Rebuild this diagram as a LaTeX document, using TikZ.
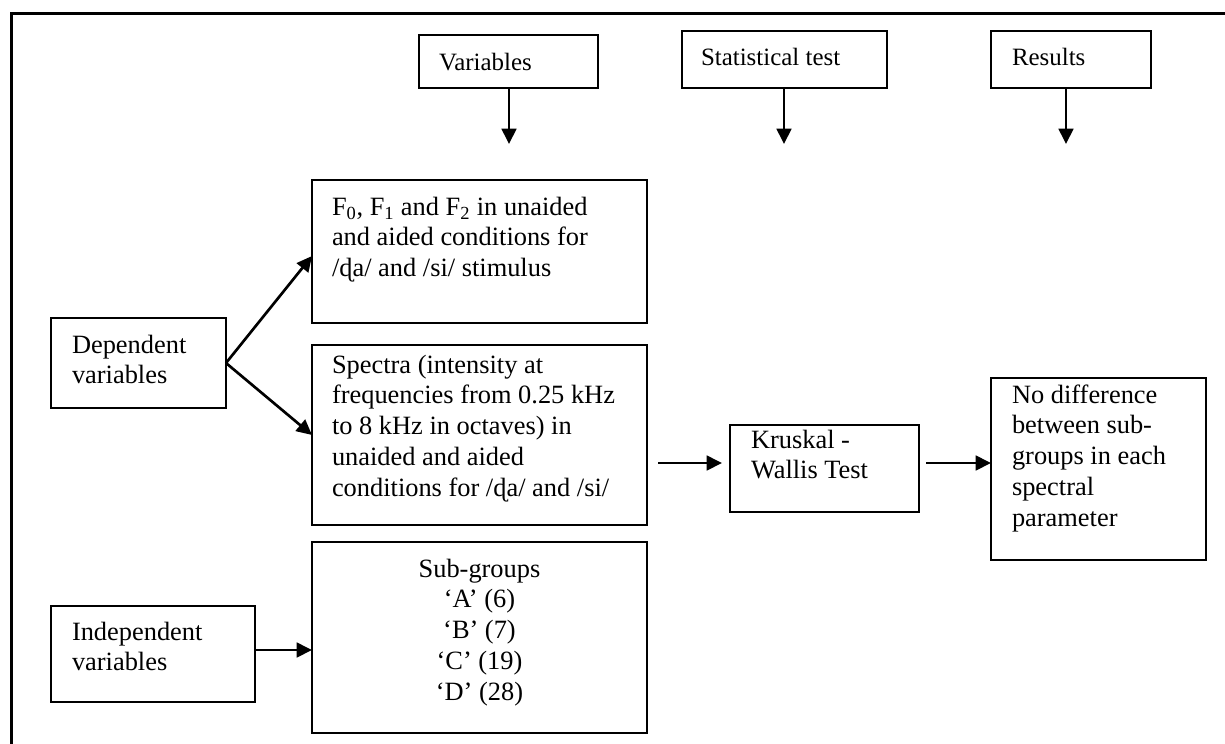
\documentclass[tikz,border=0pt]{standalone}
\usepackage{fontspec}
\setmainfont{Liberation Serif}
\usetikzlibrary{arrows.meta}
\newcommand{\stack}[2][l]{\begin{tabular}[t]{@{}#1@{}}#2\end{tabular}}
\begin{document}
\begin{tikzpicture}[x=0.75pt,y=-0.75pt,
  box/.style={draw, line width=1.3pt, inner sep=0pt, outer sep=0pt, anchor=north west},
  head/.style={inner sep=0pt, outer sep=0pt, anchor=base west,
    font=\fontsize{18.7}{23}\selectfont},
  txt/.style={inner sep=0pt, outer sep=0pt, anchor=base west,
    font=\fontsize{19.8}{23.2}\selectfont},
  arr/.style={line width=2pt, -{Triangle[length=11.5pt,width=11pt]}},
  frameline/.style={line width=2.2pt}]
\useasboundingbox (0,0) rectangle (1225,743);
% open frame along the top and left
\draw[frameline] (11.5,760) |- (1240,13.5);

% column headings
\node[box, minimum width={179*0.75pt}, minimum height={53*0.75pt}] (var) at (419,35) {};
\node[head] (varT) at (439,70) {Variables};
\node[box, minimum width={205*0.75pt}, minimum height={57*0.75pt}] (stat) at (682,31) {};
\node[head] (statT) at (701,65) {Statistical test};
\node[box, minimum width={160*0.75pt}, minimum height={57*0.75pt}] (res) at (991,31) {};
\node[head] (resT) at (1012,65) {Results};

\coordinate (varTip) at (509,144);
\coordinate (statTip) at (784,144);
\coordinate (resTip) at (1066,144);
\draw[arr] (var.south -| varTip) -- (varTip);
\draw[arr] (stat.south -| statTip) -- (statTip);
\draw[arr] (res.south -| resTip) -- (resTip);

% variables
\node[box, minimum width={335*0.75pt}, minimum height={143*0.75pt}] (f0) at (312,180) {};
\node[txt] (f0T) at (332,215) {\stack{F\textsubscript{0}, F\textsubscript{1} and F\textsubscript{2} in unaided\\
  and aided conditions for\\ /ɖa/ and /si/ stimulus}};
\node[box, minimum width={335*0.75pt}, minimum height={180*0.75pt}] (spec) at (312,345) {};
\node[txt] (specT) at (332,373) {\stack{Spectra (intensity at\\ frequencies from 0.25 kHz\\
  to 8 kHz in octaves) in\\ unaided and aided\\ conditions for /ɖa/ and /si/}};
\node[box, minimum width={175*0.75pt}, minimum height={90*0.75pt}] (dep) at (51,318) {};
\node[txt] (depT) at (72,353) {\stack{Dependent\\ variables}};
\node[box, minimum width={335*0.75pt}, minimum height={191*0.75pt}] (sub) at (312,542) {};
\node[txt, anchor=base] (subT) at (479.5,577) {\stack[c]{Sub-groups\\ ‘A’ (6)\\ ‘B’ (7)\\ ‘C’ (19)\\ ‘D’ (28)}};
\node[box, minimum width={204*0.75pt}, minimum height={96*0.75pt}] (ind) at (51,606) {};
\node[txt] (indT) at (72,640) {\stack{Independent\\ variables}};

% statistical test and result
\node[box, minimum width={189*0.75pt}, minimum height={87*0.75pt}] (kru) at (730,425) {};
\node[txt] (kruT) at (751,448) {\stack{Kruskal -\\ Wallis Test}};
\node[box, minimum width={215*0.75pt}, minimum height={182*0.75pt}] (nod) at (991,378) {};
\node[txt] (nodT) at (1012,403) {\stack{No difference\\ between sub-\\ groups in each\\ spectral\\ parameter}};

% connectors
\draw[arr] (dep.east) -- (f0.west |- 0,256);
\draw[arr] (dep.east) -- (spec.west |- 0,435);
\draw[arr] (ind.east |- 0,650) -- (sub.west |- 0,650);
\coordinate (specOut) at (658,463);
\coordinate (kruIn) at (722,463);
\coordinate (kruOut) at (926,463);
\draw[arr] (specOut) -- (kruIn);
\draw[arr] (kruOut) -- (nod.west |- kruOut);
\end{tikzpicture}
\end{document}
